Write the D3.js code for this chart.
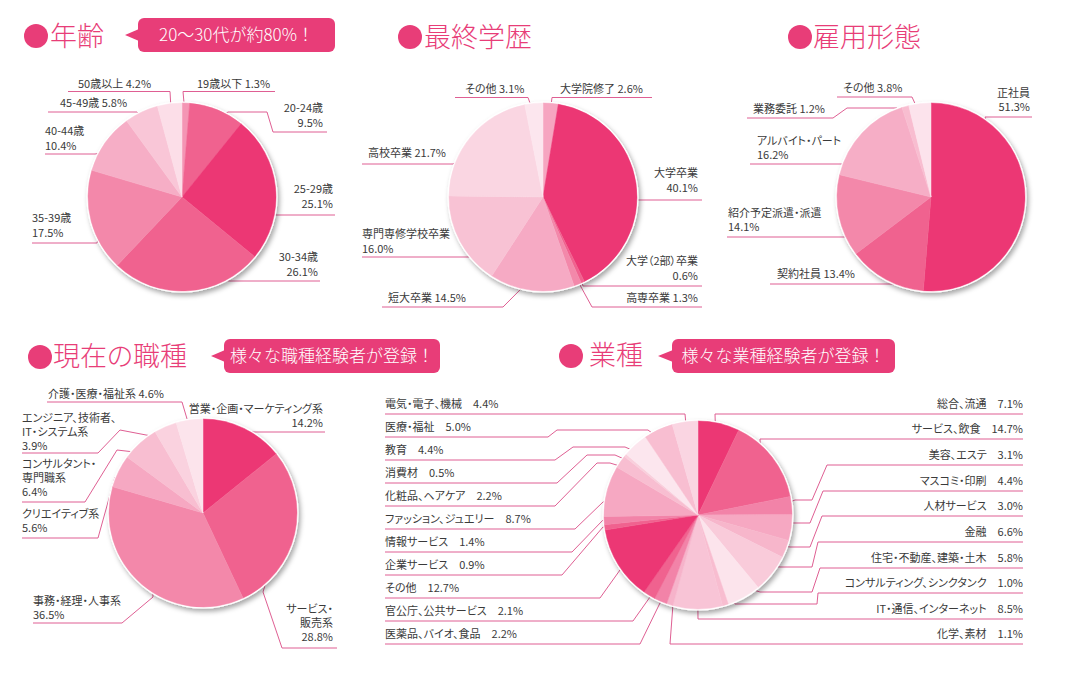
<!DOCTYPE html>
<html><head><meta charset="utf-8">
<script src="https://cdn.jsdelivr.net/npm/d3@7/dist/d3.min.js"></script>
<style>
html,body{margin:0;padding:0;background:#fff;}
svg text{font-family:"Noto Sans CJK JP","Noto Sans",sans-serif;font-feature-settings:"palt";}
</style></head>
<body><svg id="c" width="1069" height="677"></svg>
<script>
// ---------- DATA ----------
const ageCats = ["19歳以下","20-24歳","25-29歳","30-34歳","35-39歳","40-44歳","45-49歳","50歳以上"];
const ageVals = [1.3, 9.5, 25.1, 26.1, 17.5, 10.4, 5.8, 4.2];

const eduCats = ["大学院修了","大学卒業","大学（2部）卒業","高専卒業","短大卒業","専門専修学校卒業","高校卒業","その他"];
const eduVals = [2.6, 40.1, 0.6, 1.3, 14.5, 16.0, 21.7, 3.1];

const empCats = ["正社員","契約社員","紹介予定派遣・派遣","アルバイト・パート","業務委託","その他"];
const empVals = [51.3, 13.4, 14.1, 16.2, 1.2, 3.8];

const jobCats = ["営業・企画・マーケティング系","サービス・\n販売系","事務・経理・人事系","クリエイティブ系","コンサルタント・\n専門職系","エンジニア、技術者、\nIT・システム系","介護・医療・福祉系"];
const jobVals = [14.2, 28.8, 36.5, 5.6, 6.4, 3.9, 4.6];

const indCats = ["総合、流通","サービス、飲食","美容、エステ","マスコミ・印刷","人材サービス","金融","住宅・不動産、建築・土木","コンサルティング、シンクタンク","IT・通信、インターネット","化学、素材","医薬品、バイオ、食品","官公庁、公共サービス","その他","企業サービス","情報サービス","ファッション、ジュエリー","化粧品、ヘアケア","消費材","教育","医療・福祉","電気・電子、機械"];
const indVals = [7.1, 14.7, 3.1, 4.4, 3.0, 6.6, 5.8, 1.0, 8.5, 1.1, 2.2, 2.1, 12.7, 0.9, 1.4, 8.7, 2.2, 0.5, 4.4, 5.0, 4.4];

const titles = ["年齢","最終学歴","雇用形態","現在の職種","業種"];
const callouts = ["20〜30代が約80%！","様々な職種経験者が登録！","様々な業種経験者が登録！"];

// ---------- STYLE / LAYOUT ----------
const PINK = "#E83D78", LINE = "#DF5F93", TXT = "#3A3A3A";
const ageColors = ["#F495B4","#F0628F","#EC3774","#F0628F","#F388AA","#F6AEC6","#F9C6D7","#FCDEE8"];
const eduColors = ["#F6A5C0","#EC3774","#F0628F","#F388AA","#F6AAC4","#F8C2D4","#FAD6E2","#FCE6EE"];
const empColors = ["#EC3774","#F0628F","#F388AA","#F6AEC6","#F8BDD0","#FCE3EC"];
const jobColors = ["#EC3774","#F0628F","#F388AA","#F6A8C2","#F8BED1","#FAD2DF","#FCE4EC"];
const indColors = ["#EC3774","#F0628F","#F283A8","#F6A8C2","#F7B6CB","#F9CBDA","#FCE4EC","#F8BDD0","#F8C4D6","#F6B3CA","#F283A8","#F0628F","#EC3774","#F0628F","#F283A8","#F6A8C2","#F8BED1","#F9CFDC","#FCE6EE","#F8BED1","#FAD5E2"];

// label layout: x,y(first baseline),a(anchor),m(mode inline/below),u:[x1,x2,y],j(join end idx),e(elbows)
const ageLayout = [
 {x:197,y:88,a:"start",m:"i",u:[183,275,91.5],j:0,e:[]},
 {x:323,y:112,a:"end",m:"b",u:[273,327,132],j:0,e:[[267,112],[228,112]]},
 {x:333,y:193,a:"end",m:"b",u:[273,335,215],j:0,e:[]},
 {x:318,y:261,a:"end",m:"b",u:[230,320,281],j:0,e:[]},
 {x:32,y:222,a:"start",m:"b",u:[32,97,243],j:1,e:[]},
 {x:45,y:135,a:"start",m:"b",u:[45,95,154],j:1,e:[]},
 {x:60,y:107,a:"start",m:"i",u:[48,137,112],j:1,e:[]},
 {x:78,y:88,a:"start",m:"i",u:[68,170,91.5],j:1,e:[]}
];
const eduLayout = [
 {x:560,y:93,a:"start",m:"i",u:[552,652,97.5],j:0,e:[]},
 {x:698,y:177,a:"end",m:"b",u:[637,702,200],j:0,e:[]},
 {x:698,y:265,a:"end",m:"b",u:[583,702,286],j:0,e:[]},
 {x:698,y:302,a:"end",m:"i",u:[592,702,307],j:0,e:[]},
 {x:388,y:302,a:"start",m:"i",u:[382,503,307],j:1,e:[]},
 {x:362,y:238,a:"start",m:"b",u:[362,470,257],j:1,e:[]},
 {x:368,y:157,a:"start",m:"i",u:[362,453,164],j:1,e:[]},
 {x:465,y:93,a:"start",m:"i",u:[455,528,97.5],j:1,e:[]}
];
const empLayout = [
 {x:1030,y:97,a:"end",m:"b",u:[985,1032,117],j:0,e:[]},
 {x:777,y:278,a:"start",m:"i",u:[770,897,284],j:1,e:[]},
 {x:728,y:217,a:"start",m:"b",u:[727,845,237],j:1,e:[]},
 {x:757,y:145,a:"start",m:"b",u:[750,842,164],j:1,e:[]},
 {x:753,y:113,a:"start",m:"i",u:[747,833,118],j:1,e:[[847,108],[897,108]]},
 {x:843,y:92,a:"start",m:"i",u:[837,912,97],j:1,e:[]}
];
const jobLayout = [
 {x:323,y:413,a:"end",m:"b",u:[251,325,432],j:0,e:[]},
 {x:333,y:613,a:"end",m:"b",u:[282,337,648],j:0,e:[[263,592]]},
 {x:33,y:605,a:"start",m:"b",u:[33,122,623],j:1,e:[[153,597]]},
 {x:22,y:518,a:"start",m:"b",u:[22,98,538],j:1,e:[[115,477]]},
 {x:22,y:468,a:"start",m:"b",u:[22,85,502],j:1,e:[[117,450]]},
 {x:22,y:422,a:"start",m:"b",u:[22,98,453],j:1,e:[[120,430]]},
 {x:48,y:398,a:"start",m:"i",u:[47,182,402],j:1,e:[]}
];
const rY = [408,433,459,485,510,536,562,587,613,638];
const lY = i => 408 + i*23;
const indLayout = [
 {x:1023,y:rY[0],a:"end",m:"i",u:[715,1023,rY[0]+6],j:0,e:[]},
 {x:1023,y:rY[1],a:"end",m:"i",u:[760,1023,rY[1]+6],j:0,e:[]},
 {x:1023,y:rY[2],a:"end",m:"i",u:[827,1023,rY[2]+6],j:0,e:[[812,500],[795,500]]},
 {x:1023,y:rY[3],a:"end",m:"i",u:[823,1023,rY[3]+6],j:0,e:[[810,523],[793,523]]},
 {x:1023,y:rY[4],a:"end",m:"i",u:[822,1023,rY[4]+6],j:0,e:[[810,547],[790,547]]},
 {x:1023,y:rY[5],a:"end",m:"i",u:[818,1023,rY[5]+6],j:0,e:[[812,567],[780,567]]},
 {x:1023,y:rY[6],a:"end",m:"i",u:[820,1023,rY[6]+6],j:0,e:[[812,592],[760,592]]},
 {x:1023,y:rY[7],a:"end",m:"i",u:[818,1023,rY[7]+6],j:0,e:[[817,604],[735,604]]},
 {x:1023,y:rY[8],a:"end",m:"i",u:[698,1023,rY[8]+6],j:0,e:[]},
 {x:1023,y:rY[9],a:"end",m:"i",u:[670,1023,rY[9]+6],j:0,e:[]},
 {x:385,y:lY(10),a:"start",m:"i",u:[385,640,lY(10)+6],j:1,e:[[660,603]]},
 {x:385,y:lY(9),a:"start",m:"i",u:[385,633,lY(9)+6],j:1,e:[[650,597]]},
 {x:385,y:lY(8),a:"start",m:"i",u:[385,600,lY(8)+6],j:1,e:[[620,570]]},
 {x:385,y:lY(7),a:"start",m:"i",u:[385,562,lY(7)+6],j:1,e:[[603,527]]},
 {x:385,y:lY(6),a:"start",m:"i",u:[385,572,lY(6)+6],j:1,e:[[603,520]]},
 {x:385,y:lY(5),a:"start",m:"i",u:[385,575,lY(5)+6],j:1,e:[[603,502]]},
 {x:385,y:lY(4),a:"start",m:"i",u:[385,555,lY(4)+6],j:1,e:[[597,463],[610,463]]},
 {x:385,y:lY(3),a:"start",m:"i",u:[385,557,lY(3)+6],j:1,e:[[587,455],[615,455]]},
 {x:385,y:lY(2),a:"start",m:"i",u:[385,555,lY(2)+6],j:1,e:[[573,447],[625,447]]},
 {x:385,y:lY(1),a:"start",m:"i",u:[385,548,lY(1)+6],j:1,e:[[557,430],[648,430]]},
 {x:385,y:lY(0),a:"start",m:"i",u:[385,685,lY(0)+6],j:1,e:[]}
];

const pies = [
 {cats:ageCats, vals:ageVals, colors:ageColors, layout:ageLayout, cx:182, cy:197, r:94, lh:15, sep:" "},
 {cats:eduCats, vals:eduVals, colors:eduColors, layout:eduLayout, cx:543, cy:197, r:94, lh:14.5, sep:" "},
 {cats:empCats, vals:empVals, colors:empColors, layout:empLayout, cx:931, cy:197, r:94, lh:14, sep:" "},
 {cats:jobCats, vals:jobVals, colors:jobColors, layout:jobLayout, cx:203, cy:513, r:94, lh:14, sep:" "},
 {cats:indCats, vals:indVals, colors:indColors, layout:indLayout, cx:698, cy:515, r:94, lh:14, sep:"\u3000"}
];
const titlePos = [[36,36,50,46],[410,37,424,47],[800,37,813,47],[40,357,53,366],[571,356,589,365]];
const calloutPos = [[138,18,335,52,125],[224,339,440,373,211],[672,339,895,373,658]];

// ---------- DRAW ----------
const svg = d3.select("#c");
const defs = svg.append("defs");
const f = defs.append("filter").attr("id","sh").attr("x","-20%").attr("y","-20%").attr("width","150%").attr("height","150%");
f.append("feDropShadow").attr("dx",2).attr("dy",3).attr("stdDeviation",2.5).attr("flood-color","#000").attr("flood-opacity",0.35);

// titles
titles.forEach((t,i)=>{
  const [bx,by,tx,ty] = titlePos[i];
  svg.append("circle").attr("cx",bx).attr("cy",by).attr("r",12).attr("fill",PINK);
  svg.append("text").attr("x",tx).attr("y",ty).attr("fill",PINK).attr("font-size",27).attr("font-weight",300).text(t);
});
// callouts
callouts.forEach((t,i)=>{
  const [x0,y0,x1,y1,tip] = calloutPos[i];
  const ym = (y0+y1)/2;
  svg.append("rect").attr("x",x0).attr("y",y0).attr("width",x1-x0).attr("height",y1-y0).attr("rx",6).attr("fill",PINK);
  svg.append("path").attr("d",`M${x0+1},${ym-6}L${tip},${ym}L${x0+1},${ym+6}Z`).attr("fill",PINK);
  svg.append("text").attr("x",(x0+x1)/2).attr("y",ym+6).attr("text-anchor","middle").attr("fill","#fff").attr("font-size",17).attr("font-weight",300).style("font-feature-settings","normal").text(t);
});

pies.forEach(p=>{
  const pie = d3.pie().sort(null).value(d=>d)(p.vals);
  const arc = d3.arc().innerRadius(0).outerRadius(p.r);
  const inner = d3.arc().innerRadius(p.r*0.85).outerRadius(p.r*0.85);
  const gl = svg.append("g");
  // leader lines (under pie)
  pie.forEach((d,i)=>{
    const L = p.layout[i];
    const [x1,x2,uy] = L.u;
    const far = L.j===0 ? x2 : x1, near = L.j===0 ? x1 : x2;
    const c = inner.centroid(d);
    const pts = [[far,uy],[near,uy],...L.e,[p.cx+c[0],p.cy+c[1]]];
    gl.append("path").attr("d",d3.line()(pts)).attr("fill","none").attr("stroke",LINE).attr("stroke-width",1);
  });
  // pie
  const g = svg.append("g").attr("transform",`translate(${p.cx},${p.cy})`);
  g.append("circle").attr("r",p.r+1.5).attr("fill","#fff").attr("filter","url(#sh)");
  g.selectAll("path.s").data(pie).join("path").attr("class","s").attr("d",arc)
    .attr("fill",(d,i)=>p.colors[i]).attr("stroke",(d,i)=>p.colors[i]).attr("stroke-width",0.5);
  // labels
  pie.forEach((d,i)=>{
    const L = p.layout[i];
    const lines = p.cats[i].split("\n");
    const v = p.vals[i].toFixed(1)+"%";
    if (L.m==="i") lines[lines.length-1] += p.sep + v; else lines.push(v);
    const t = svg.append("text").attr("x",L.x).attr("y",L.y).attr("text-anchor",L.a).attr("fill",TXT).attr("font-size",11);
    lines.forEach((s,k)=> t.append("tspan").attr("x",L.x).attr("y",L.y+k*p.lh).text(s));
  });
});
</script></body></html>
